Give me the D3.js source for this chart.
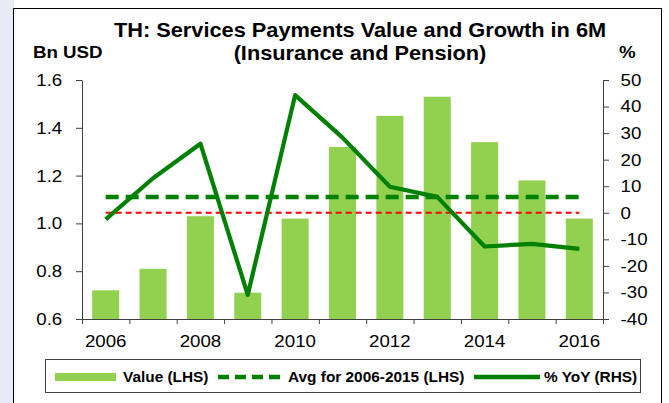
<!DOCTYPE html>
<html>
<head>
<meta charset="utf-8">
<script src="https://cdn.jsdelivr.net/npm/d3@7"></script>
<style>
body { margin: 0; background: #fff; }
svg { display: block; font-family: "Liberation Sans", Arial, sans-serif; }
</style>
</head>
<body>
<div id="main"></div>
<script>
var years = ["2006", "2007", "2008", "2009", "2010", "2011", "2012", "2013", "2014", "2015", "2016"];
var value_lhs = [0.72, 0.81, 1.03, 0.71, 1.02, 1.32, 1.45, 1.53, 1.34, 1.18, 1.02];
var yoy_rhs = [-2.5, 13.0, 26.0, -30.9, 44.3, 28.3, 9.8, 6.0, -12.7, -11.7, -13.6];
var avg_lhs = 1.11;
var zero_rhs = 0;
var left_ticks = [0.6, 0.8, 1.0, 1.2, 1.4, 1.6];
var right_ticks = [-40, -30, -20, -10, 0, 10, 20, 30, 40, 50];
var year_labels = ["2006", "2008", "2010", "2012", "2014", "2016"];
var legend_items = ["Value (LHS)", "Avg for 2006-2015 (LHS)", "% YoY (RHS)"];

var W = 669, H = 403;
var stretch = "scale(1.1,1)";
var bar_color = "#92d050";
var line_color = "#008000";

var svg = d3.select("#main").append("svg")
    .attr("width", W)
    .attr("height", H);

// page background strip and chart frame
svg.append("rect").attr("x", 0).attr("y", 0).attr("width", 14).attr("height", H).attr("fill", "#e8ebf4");
svg.append("rect")
    .attr("x", 13.5).attr("y", 8.5)
    .attr("width", 648).attr("height", 420)
    .attr("fill", "#fff")
    .attr("stroke", "#000");

var p_left = 82, p_right = 603, p_top = 80, p_bottom = 319;

var x = d3.scaleBand().domain(years).range([p_left, p_right]).paddingInner(0.43).paddingOuter(0.215);
var xb = d3.scaleLinear().domain([0, years.length]).range([p_left, p_right]);
var yl = d3.scaleLinear().domain([0.6, 1.6]).range([p_bottom, p_top]);
var yr = d3.scaleLinear().domain([-40, 50]).range([p_bottom, p_top]);
var cx = function(d) { return x(d) + x.bandwidth() / 2; };

function text_at(g, tx, ty, str, size, weight, anchor) {
    g.append("g")
        .attr("transform", "translate(" + tx + "," + ty + ") " + stretch)
        .append("text")
        .attr("text-anchor", anchor || "start")
        .style("font-size", size + "px")
        .style("font-weight", weight || "normal")
        .attr("fill", "#000")
        .text(str);
}

// title and axis titles
text_at(svg, 360, 37, "TH: Services Payments Value and Growth in 6M", 19.8, "bold", "middle");
text_at(svg, 360, 60, "(Insurance and Pension)", 19.8, "bold", "middle");
text_at(svg, 33, 58, "Bn USD", 17, "bold");
text_at(svg, 619, 58, "%", 17, "bold");

// bars
svg.selectAll(".bar")
    .data(years)
    .enter()
    .append("rect")
    .attr("class", "bar")
    .attr("x", function(d) { return x(d); })
    .attr("width", x.bandwidth())
    .attr("y", function(d, i) { return yl(value_lhs[i]); })
    .attr("height", function(d, i) { return p_bottom - yl(value_lhs[i]); })
    .attr("fill", bar_color);

// zero line of RHS
svg.append("line")
    .attr("x1", cx(years[0])).attr("x2", cx(years[years.length - 1]))
    .attr("y1", yr(zero_rhs)).attr("y2", yr(zero_rhs))
    .attr("stroke", "#ff0000")
    .attr("stroke-width", 2)
    .attr("stroke-dasharray", "6,4");

// average line
svg.append("line")
    .attr("x1", cx(years[0])).attr("x2", cx(years[years.length - 1]))
    .attr("y1", yl(avg_lhs)).attr("y2", yl(avg_lhs))
    .attr("stroke", line_color)
    .attr("stroke-width", 4.5)
    .attr("stroke-dasharray", "13,7");

// yoy line
var line = d3.line()
    .x(function(d, i) { return cx(years[i]); })
    .y(function(d) { return yr(d); });
svg.append("path")
    .datum(yoy_rhs)
    .attr("d", line)
    .attr("fill", "none")
    .attr("stroke", line_color)
    .attr("stroke-width", 4.2)
    .attr("stroke-linejoin", "round");

// axes
var axis_color = "#404040";
var gl = svg.append("g")
    .attr("transform", "translate(" + p_left + ",0)")
    .call(d3.axisLeft(yl).tickValues(left_ticks).tickFormat(d3.format(".1f")).tickSize(6).tickSizeOuter(0).tickPadding(12));
var gr = svg.append("g")
    .attr("transform", "translate(" + p_right + ",0)")
    .call(d3.axisRight(yr).tickValues(right_ticks).tickFormat(function(d) { return String(d); })
          .tickSize(6).tickSizeOuter(0).tickPadding(10));
var gb = svg.append("g")
    .attr("transform", "translate(0," + p_bottom + ")")
    .call(d3.axisBottom(xb).tickValues(d3.range(0, years.length + 1)).tickFormat("").tickSize(5).tickSizeOuter(0));
var gbl = svg.append("g")
    .attr("transform", "translate(0," + p_bottom + ")")
    .call(d3.axisBottom(x).tickValues(year_labels).tickSize(0).tickPadding(16));
gbl.select(".domain").remove();

[gl, gr, gb, gbl].forEach(function(g) {
    g.selectAll("path, line").attr("stroke", axis_color);
    g.selectAll("text")
        .attr("transform", stretch)
        .attr("fill", "#000")
        .style("font-size", "17px")
        .style("font-family", "'Liberation Sans', Arial, sans-serif");
});

// legend
var lg = svg.append("g");
lg.append("rect")
    .attr("x", 45.5).attr("y", 359.5)
    .attr("width", 595).attr("height", 33)
    .attr("fill", "#fff")
    .attr("stroke", "#404040");
lg.append("rect").attr("x", 55).attr("y", 373).attr("width", 61).attr("height", 8).attr("fill", bar_color);
text_at(lg, 123, 382, legend_items[0], 14, "bold");
lg.append("line").attr("x1", 218).attr("x2", 282).attr("y1", 377).attr("y2", 377)
    .attr("stroke", line_color).attr("stroke-width", 4.5).attr("stroke-dasharray", "11,6");
text_at(lg, 288, 382, legend_items[1], 14, "bold");
lg.append("line").attr("x1", 474).attr("x2", 540).attr("y1", 377).attr("y2", 377)
    .attr("stroke", line_color).attr("stroke-width", 4.5);
text_at(lg, 544, 382, legend_items[2], 14, "bold");
</script>
</body>
</html>
